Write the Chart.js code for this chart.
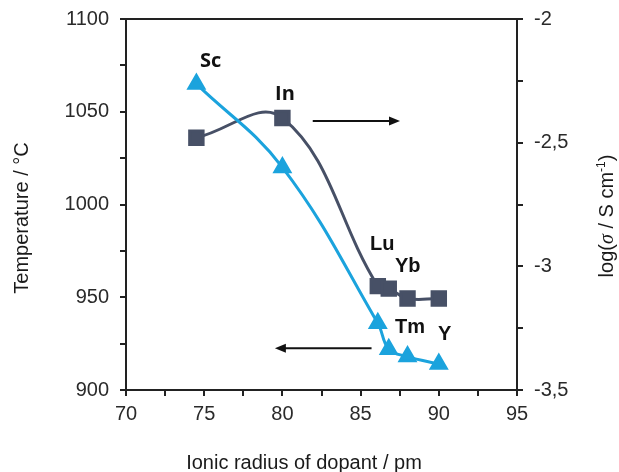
<!DOCTYPE html>
<html>
<head>
<meta charset="utf-8">
<script src="https://cdn.jsdelivr.net/npm/chart.js@4.4.1/dist/chart.umd.min.js"></script>
<style>
  html, body { margin: 0; padding: 0; background: #ffffff; }
  #wrap { width: 619px; height: 472px; position: relative; }
</style>
</head>
<body>
<div id="wrap"><canvas id="c" width="619" height="472"></canvas></div>
<script>
// ---- Data ----
const dopants = ["Sc", "In", "Lu", "Yb", "Tm", "Y"];
const ionicRadius = [74.5, 80.0, 86.1, 86.8, 88.0, 90.0];           // pm
const temperature = [1065, 1020, 936, 922, 918, 914];               // °C (left axis)
const logSigma = [-2.48, -2.40, -3.08, -3.09, -3.13, -3.13];        // log(σ / S cm-1) (right axis)

const xTicksMajor = [70, 75, 80, 85, 90, 95];
const yLeftMajor = [900, 950, 1000, 1050, 1100];
const yRightMajor = [-3.5, -3, -2.5, -2];

// annotation placement (data coords: x in pm, y in °C)
const labelSpots = [
  { text: "Sc", x: 74.73, y: 1074.1, font: "bold 20px 'Open Sans'" },
  { text: "In", x: 79.53, y: 1056.3, font: "bold 20px 'Open Sans'" },
  { text: "Lu", x: 85.60, y: 975.5, font: "bold 20px 'Liberation Sans'" },
  { text: "Yb", x: 87.20, y: 963.6, font: "bold 20px 'Liberation Sans'" },
  { text: "Tm", x: 87.20, y: 930.7, font: "bold 20px 'Liberation Sans'" },
  { text: "Y",  x: 89.95, y: 927.0, font: "bold 20px 'Liberation Sans'" }
];
const arrows = [
  { x0: 81.94, x1: 87.52, y: 1045.0 },   // points right (to conductivity axis)
  { x0: 85.70, x1: 79.52, y: 922.5 }     // points left (to temperature axis)
];

const DARK = "#475066";
const BLUE = "#1ba3dd";
const AXIS = "#222222";

const overlay = {
  id: "overlay",
  afterDraw(chart) {
    const ctx = chart.ctx;
    const xs = chart.scales.x, ys = chart.scales.y;
    const ca = chart.chartArea;
    ctx.save();
    // top border
    ctx.strokeStyle = AXIS;
    ctx.lineWidth = 2;
    ctx.beginPath();
    ctx.moveTo(ca.left - 1, ca.top);
    ctx.lineTo(ca.right + 1, ca.top);
    ctx.stroke();

    // element labels
    ctx.fillStyle = "#111";
    ctx.textAlign = "left";
    ctx.textBaseline = "alphabetic";
    labelSpots.forEach(l => {
      ctx.font = l.font;
      ctx.fillText(l.text, xs.getPixelForValue(l.x), ys.getPixelForValue(l.y));
    });

    // arrows
    ctx.strokeStyle = "#111";
    ctx.fillStyle = "#111";
    ctx.lineWidth = 2;
    arrows.forEach(a => {
      const px0 = xs.getPixelForValue(a.x0), px1 = xs.getPixelForValue(a.x1);
      const py = ys.getPixelForValue(a.y);
      const dir = Math.sign(px1 - px0);
      const headLen = 11, headHalf = 4.5;
      ctx.beginPath();
      ctx.moveTo(px0, py);
      ctx.lineTo(px1 - dir * headLen + dir * 2, py);
      ctx.stroke();
      ctx.beginPath();
      ctx.moveTo(px1, py);
      ctx.lineTo(px1 - dir * headLen, py - headHalf);
      ctx.lineTo(px1 - dir * headLen, py + headHalf);
      ctx.closePath();
      ctx.fill();
    });

    // axis titles
    ctx.fillStyle = "#1a1a1a";
    ctx.font = "20px 'Liberation Sans'";
    ctx.textAlign = "center";
    ctx.textBaseline = "alphabetic";
    ctx.fillText("Ionic radius of dopant / pm", 304, 469);

    ctx.save();
    ctx.translate(28, 218);
    ctx.rotate(-Math.PI / 2);
    ctx.fillText("Temperature / °C", 0, 0);
    ctx.restore();

    // right title with italic sigma and superscript
    ctx.save();
    ctx.translate(613, 216);
    ctx.rotate(-Math.PI / 2);
    const segs = [
      { t: "log(", f: "20px 'Liberation Sans'", dy: 0 },
      { t: "σ", f: "italic 20px 'Liberation Serif'", dy: 0 },
      { t: " / S cm", f: "20px 'Liberation Sans'", dy: 0 },
      { t: "-1", f: "12px 'Liberation Sans'", dy: -8 },
      { t: ")", f: "20px 'Liberation Sans'", dy: 0 }
    ];
    let total = 0;
    segs.forEach(s => { ctx.font = s.f; s.w = ctx.measureText(s.t).width; total += s.w; });
    let cx = -total / 2;
    ctx.textAlign = "left";
    segs.forEach(s => { ctx.font = s.f; ctx.fillText(s.t, cx, s.dy); cx += s.w; });
    ctx.restore();

    ctx.restore();
  }
};

const tickFont = { family: "'Liberation Sans'", size: 20 };
const near = (v, arr) => arr.some(a => Math.abs(a - v) < 1e-6);

new Chart(document.getElementById("c"), {
  type: "line",
  data: {
    datasets: [
      {
        label: "Temperature",
        data: ionicRadius.map((x, i) => ({ x, y: temperature[i] })),
        yAxisID: "y",
        borderColor: BLUE,
        backgroundColor: BLUE,
        borderWidth: 3,
        pointStyle: "triangle",
        pointRadius: 8.5,
        pointHoverRadius: 8.5,
        tension: 0.4,
        fill: false
      },
      {
        label: "log sigma",
        data: ionicRadius.map((x, i) => ({ x, y: logSigma[i] })),
        yAxisID: "y2",
        borderColor: DARK,
        backgroundColor: DARK,
        borderWidth: 3,
        pointStyle: "rect",
        pointRadius: 9.5,
        pointHoverRadius: 9.5,
        tension: 0.4,
        fill: false
      }
    ]
  },
  options: {
    responsive: false,
    animation: false,
    events: [],
    layout: { padding: { left: 0, right: 0, top: 19, bottom: 0 } },
    plugins: { legend: { display: false }, tooltip: { enabled: false } },
    scales: {
      x: {
        type: "linear",
        min: 70, max: 95,
        afterFit: s => { s.height = 82; s.paddingLeft = 0; s.paddingRight = 0; },
        afterBuildTicks: s => { s.ticks = []; for (let v = 70; v <= 95.0001; v += 2.5) s.ticks.push({ value: v }); },
        ticks: {
          font: tickFont, color: "#2a2a2a", padding: 6, maxRotation: 0, autoSkip: false,
          callback: v => near(v, xTicksMajor) ? String(v) : ""
        },
        grid: { drawOnChartArea: false, drawTicks: true, tickLength: 6, color: AXIS, lineWidth: 2 },
        border: { display: true, color: AXIS, width: 2 }
      },
      y: {
        type: "linear", position: "left",
        min: 900, max: 1100,
        afterFit: s => { s.width = 126; s.paddingTop = 0; s.paddingBottom = 0; },
        afterBuildTicks: s => { s.ticks = []; for (let v = 900; v <= 1100; v += 25) s.ticks.push({ value: v }); },
        ticks: {
          font: tickFont, color: "#2a2a2a", padding: 11, autoSkip: false,
          callback: v => near(v, yLeftMajor) ? String(v) : ""
        },
        grid: { drawOnChartArea: false, drawTicks: true, tickLength: 6, color: AXIS, lineWidth: 2 },
        border: { display: true, color: AXIS, width: 2 }
      },
      y2: {
        type: "linear", position: "right",
        min: -3.5, max: -2,
        afterFit: s => { s.width = 102; s.paddingTop = 0; s.paddingBottom = 0; },
        afterBuildTicks: s => { s.ticks = []; for (let k = 0; k <= 6; k++) s.ticks.push({ value: -3.5 + k * 0.25 }); },
        ticks: {
          font: tickFont, color: "#2a2a2a", padding: 11, autoSkip: false,
          callback: v => near(v, yRightMajor) ? String(Math.round(v * 10) / 10).replace(".", ",") : ""
        },
        grid: { drawOnChartArea: false, drawTicks: true, tickLength: 6, color: AXIS, lineWidth: 2 },
        border: { display: true, color: AXIS, width: 2 }
      }
    }
  },
  plugins: [overlay]
});
</script>
</body>
</html>
